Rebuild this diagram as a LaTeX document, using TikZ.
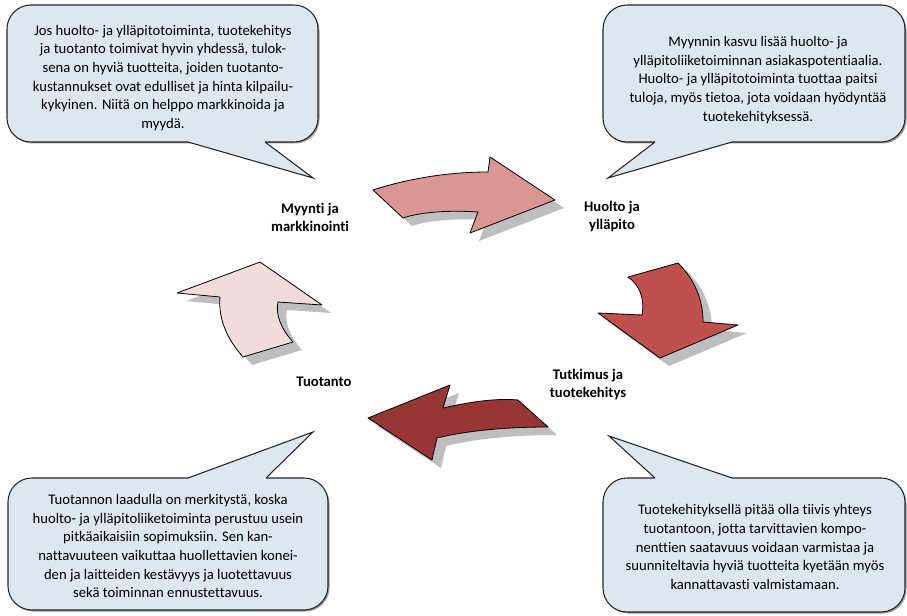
\documentclass[tikz,border=0pt]{standalone}
\usepackage{fontspec}
\setmainfont{Carlito}[Ligatures=NoCommon]
\usepackage{tikz}
\usetikzlibrary{calc}

\definecolor{bubblebg}{RGB}{221,231,242}
\definecolor{shadowgray}{RGB}{190,190,190}
\definecolor{arrowrose}{RGB}{217,150,148}
\definecolor{arrowred}{RGB}{192,80,77}
\definecolor{arrowdark}{RGB}{150,55,53}
\definecolor{arrowpale}{RGB}{242,220,219}

\begin{document}
\begin{tikzpicture}[
  x=0.75pt, y=-0.75pt,
  bubble/.style={draw=black!85, fill=bubblebg, line width=0.8pt, rounded corners=18},
  bubbleshadow/.style={fill=black!40, rounded corners=18},
  tail/.style={fill=bubblebg},
  tailedge/.style={draw=black!85, line width=0.8pt, line join=miter},
  note/.style={align=center, font=\fontsize{11}{14}\selectfont, inner sep=0pt},
  stage/.style={align=center, font=\fontsize{11}{13.5}\selectfont\bfseries, inner sep=0pt},
  arrowbody/.style={draw=black, line width=0.6pt, line join=round},
  dropshadow/.style={fill=shadowgray}
]

\useasboundingbox (0,0) rectangle (907,616);

% ---- Cycle arrows: shadows ----
\begin{scope}[shift={(9,8)}]
\fill[dropshadow] (373,190) .. controls (410,178) and (450,172) .. (488,172) -- (490,157) -- (555,200) -- (470,233) -- (478,212)
  .. controls (450,210) and (420,212) .. (403,218) -- cycle;
\fill[dropshadow] (628,277) -- (678,263) .. controls (695,280) and (703,300) .. (703,322) -- (738,325) -- (660,358) -- (598,313) -- (642,315)
  .. controls (645,300) and (640,285) .. cycle;
\fill[dropshadow] (518,400) -- (548,427) .. controls (510,427) and (470,430) .. (437,438) -- (432,460) -- (368,418) -- (450,385) -- (443,408)
  .. controls (470,402) and (495,398) .. cycle;
\fill[dropshadow] (243,357) -- (293,342) .. controls (282,330) and (275,315) .. (278,302) -- (322,305) -- (260,262) -- (177,293) -- (220,297)
  .. controls (218,320) and (228,340) .. cycle;
\end{scope}

% ---- Cycle arrows ----
\filldraw[arrowbody, fill=arrowrose] (373,190) .. controls (410,178) and (450,172) .. (488,172) -- (490,157) -- (555,200) -- (470,233) -- (478,212)
  .. controls (450,210) and (420,212) .. (403,218) -- cycle;
\filldraw[arrowbody, fill=arrowred] (628,277) -- (678,263) .. controls (695,280) and (703,300) .. (703,322) -- (738,325) -- (660,358) -- (598,313) -- (642,315)
  .. controls (645,300) and (640,285) .. cycle;
\filldraw[arrowbody, fill=arrowdark] (518,400) -- (548,427) .. controls (510,427) and (470,430) .. (437,438) -- (432,460) -- (368,418) -- (450,385) -- (443,408)
  .. controls (470,402) and (495,398) .. cycle;
\filldraw[arrowbody, fill=arrowpale] (243,357) -- (293,342) .. controls (282,330) and (275,315) .. (278,302) -- (322,305) -- (260,262) -- (177,293) -- (220,297)
  .. controls (218,320) and (228,340) .. cycle;

% ---- Stage labels ----
\node[stage] (myynti) at (310,217) {Myynti ja\\markkinointi};
\node[stage] (huolto) at (612,217) {Huolto ja\\ylläpito};
\node[stage] (tutkimus) at (588,385) {Tutkimus ja\\tuotekehitys};
\node[stage] (tuotanto) at (324,382) {Tuotanto};

% ---- Callout: top left ----
\fill[bubbleshadow] (8.5,6.5) rectangle (319.5,143.5);
\filldraw[bubble] (7,5) rectangle (318,142);
\fill[tail] (188,138) -- (188,142) -- (313,178) -- (265,142) -- (265,138) -- cycle;
\draw[tailedge] (188,142) -- (313,178) -- (265,142);
\node[note] (notemyynti) at (163,78) {Jos huolto- ja ylläpitotoiminta, tuotekehitys\\
  ja tuotanto toimivat hyvin yhdessä, tulok-\\
  sena on hyviä tuotteita, joiden tuotanto-\\
  kustannukset ovat edulliset ja hinta kilpailu-\\
  kykyinen. Niitä on helppo markkinoida ja\\
  myydä.};

% ---- Callout: top right ----
\fill[bubbleshadow] (604.5,6.5) rectangle (906.5,143.5);
\filldraw[bubble] (603,5) rectangle (905,142);
\fill[tail] (655,138) -- (655,142) -- (608,178) -- (732,142) -- (732,138) -- cycle;
\draw[tailedge] (655,142) -- (608,178) -- (732,142);
\node[note] (notehuolto) at (758,80) {Myynnin kasvu lisää huolto- ja\\
  ylläpitoliiketoiminnan asiakaspotentiaalia.\\
  Huolto- ja ylläpitotoiminta tuottaa paitsi\\
  tuloja, myös tietoa, jota voidaan hyödyntää\\
  tuotekehityksessä.};

% ---- Callout: bottom left ----
\fill[bubbleshadow] (9.5,479.5) rectangle (329.5,611.5);
\filldraw[bubble] (8,478) rectangle (328,610);
\fill[tail] (188,482) -- (188,478) -- (313,432) -- (266,478) -- (266,482) -- cycle;
\draw[tailedge] (188,478) -- (313,432) -- (266,478);
\node[note] (notetuotanto) at (168,546) {Tuotannon laadulla on merkitystä, koska\\
  huolto- ja ylläpitoliiketoiminta perustuu usein\\
  pitkäaikaisiin sopimuksiin. Sen kan-\\
  nattavuuteen vaikuttaa huollettavien konei-\\
  den ja laitteiden kestävyys ja luotettavuus\\
  sekä toiminnan ennustettavuus.};

% ---- Callout: bottom right ----
\fill[bubbleshadow] (604.5,479.5) rectangle (906.5,613.5);
\filldraw[bubble] (603,478) rectangle (905,612);
\fill[tail] (655,482) -- (655,478) -- (609,436) -- (732,478) -- (732,482) -- cycle;
\draw[tailedge] (655,478) -- (609,436) -- (732,478);
\node[note] (notetutkimus) at (755,547) {Tuotekehityksellä pitää olla tiivis yhteys\\
  tuotantoon, jotta tarvittavien kompo-\\
  nenttien saatavuus voidaan varmistaa ja\\
  suunniteltavia hyviä tuotteita kyetään myös\\
  kannattavasti valmistamaan.};

\end{tikzpicture}
\end{document}
